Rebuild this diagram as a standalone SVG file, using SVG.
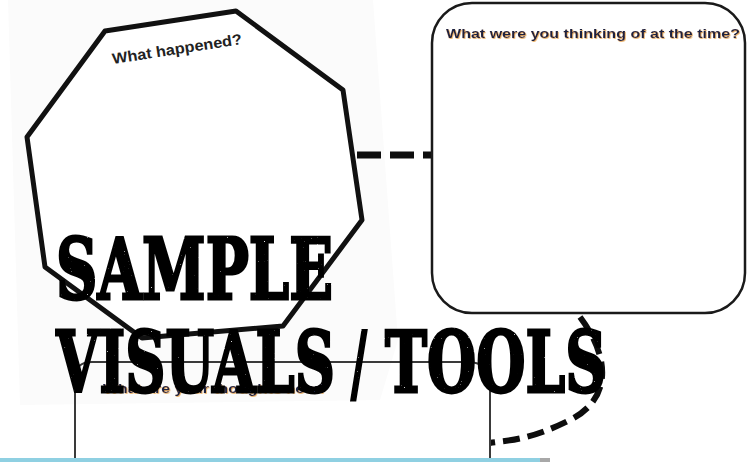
<svg xmlns="http://www.w3.org/2000/svg" width="748" height="462" viewBox="0 0 748 462">
  <style>
    .shape { fill: #ffffff; stroke: #111111; stroke-linejoin: round; }
    .oct { stroke-width: 5; }
    .box { stroke-width: 2.5; stroke: #1a1a1a; }
    .thin { fill: none; stroke: #3a3a3a; stroke-width: 2; }
    .lbl { font-family: "Liberation Sans", Arial, sans-serif; font-weight: bold; fill: #1e2440; }
    .dash1 { fill: none; stroke: #0d0d0d; stroke-width: 7; stroke-dasharray: 24 9; }
    .dash2 { fill: none; stroke: #0d0d0d; stroke-width: 6; stroke-dasharray: 17 8; }
    .stamp { font-family: "DejaVu Serif", "Liberation Serif", serif; font-weight: bold; fill: #000000; stroke: #000000; stroke-width: 3; stroke-linejoin: miter; }
  </style>
  <defs>
    <filter id="halo" x="-5%" y="-30%" width="110%" height="160%">
      <feDropShadow dx="0.7" dy="0.8" stdDeviation="0.4" flood-color="#e39a3b" flood-opacity="0.9"/>
    </filter>
    <filter id="grunge" x="0" y="0" width="100%" height="100%">
      <feTurbulence type="fractalNoise" baseFrequency="0.7" numOctaves="1" seed="7" result="n"/>
      <feColorMatrix in="n" type="matrix" values="0 0 0 0 0  0 0 0 0 0  0 0 0 0 0  0 0 0 -10 8.4" result="m"/>
      <feComposite in="SourceGraphic" in2="m" operator="in"/>
    </filter>
  </defs>

  <!-- background -->
  <rect x="0" y="0" width="748" height="462" fill="#ffffff"/>
  <polygon points="8,0 373,0 398,340 380,400 20,405" fill="#fbfbfb"/>

  <!-- connectors -->
  <g id="connectors">
    <line class="dash1" x1="357" y1="155" x2="432" y2="155"/>
    <path class="dash2" d="M580,317 C612,360 610,400 570,420 S510,440 490,443"/>
  </g>

  <!-- node: What happened? -->
  <g id="node-what-happened">
    <polygon class="shape oct" points="105,31 236,11 343,90 362,220 283,326 142,338 45,267 27,137"/>
    <text class="lbl" x="113" y="64" font-size="15" textLength="131" lengthAdjust="spacingAndGlyphs" style="fill:#222222" transform="rotate(-8.8 113 64)">What happened?</text>
  </g>

  <!-- node: What were you thinking -->
  <g id="node-thinking">
    <rect class="shape box" x="432" y="3" width="313" height="310" rx="40" ry="40"/>
    <text class="lbl" x="446" y="38" font-size="13" textLength="294" lengthAdjust="spacingAndGlyphs" filter="url(#halo)">What were you thinking of at the time?</text>
  </g>

  <!-- node: What are your thoughts now -->
  <g id="node-now">
    <path class="thin" d="M75,462 V378 Q75,362 92,362 H468 Q490,362 490,385 V462"/>
    <text class="lbl" x="103" y="393" font-size="13" textLength="224" lengthAdjust="spacingAndGlyphs" filter="url(#halo)">What are your thoughts now?</text>
  </g>

  <!-- watermark -->
  <g id="watermark" filter="url(#grunge)">
    <text class="stamp" x="56" y="299" font-size="84" textLength="277" lengthAdjust="spacingAndGlyphs">SAMPLE</text>
    <text class="stamp" y="392" font-size="85"><tspan x="56" textLength="279" lengthAdjust="spacingAndGlyphs">VISUALS</tspan><tspan x="336" textLength="46" lengthAdjust="spacingAndGlyphs"> / </tspan><tspan x="385" textLength="221" lengthAdjust="spacingAndGlyphs">TOOLS</tspan></text>
  </g>

  <!-- bottom bar -->
  <rect x="0" y="458" width="540" height="4" fill="#8fd0e2"/>
  <rect x="540" y="458" width="10" height="4" fill="#a8a8a8"/>
</svg>
